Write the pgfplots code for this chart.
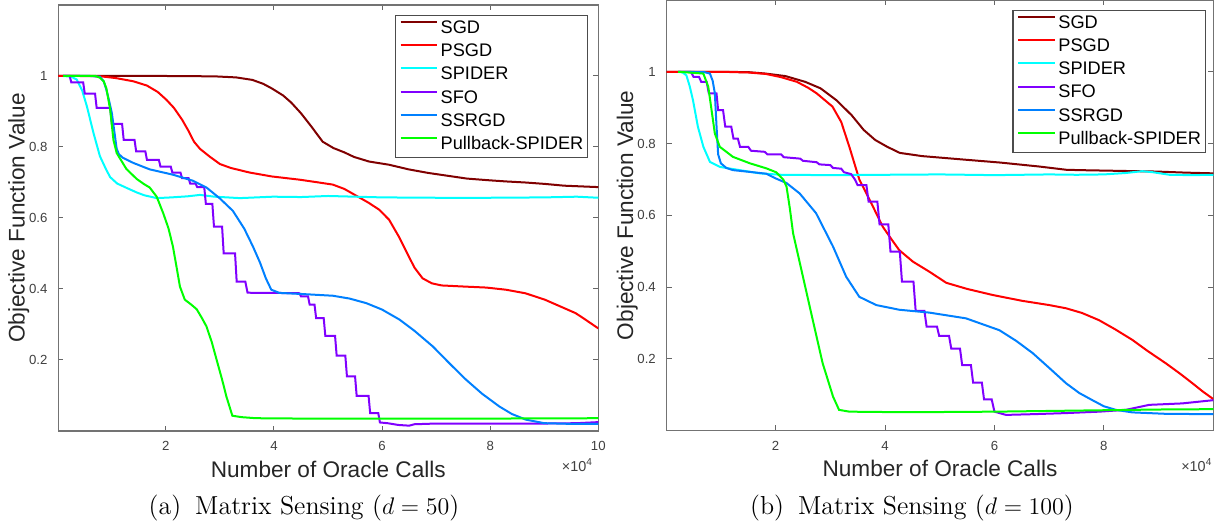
\documentclass[border=0pt]{standalone}
\usepackage{fontspec}
\usepackage{pgfplots}
\pgfplotsset{compat=1.18}
\newfontfamily\arial{Liberation Sans}
\newcommand{\tickfont}{\arial\fontsize{6.6}{7.8}\selectfont}
\newcommand{\sclfont}{\arial\fontsize{7.2}{8.4}\selectfont}
\newcommand{\labfont}{\arial\fontsize{11.3}{13}\selectfont}
\newcommand{\legfont}{\arial\fontsize{9.1}{10.5}\selectfont}
\newcommand{\legent}[1]{\addlegendentry{\legfont #1}}
\definecolor{cSGD}{RGB}{128,0,0}
\definecolor{cPSGD}{RGB}{255,0,0}
\definecolor{cSPIDER}{RGB}{0,255,255}
\definecolor{cSFO}{RGB}{128,0,255}
\definecolor{cSSRGD}{RGB}{0,128,255}
\definecolor{cPB}{RGB}{0,255,0}

\pgfplotsset{
  msense/.style={
    scale only axis,
    xmin=0.01, xmax=10, ymin=0, ymax=1.2,
    ytick={0.2,0.4,0.6,0.8,1},
    tick align=inside, major tick length=2.6pt,
    axis line style={black!55, line width=0.7pt},
    every tick/.style={black!60, line width=0.5pt},
    ticklabel style={font=\tickfont, text=black!75},
    yticklabel style={xshift=-1.9pt},
    xticklabel style={yshift=-1.65pt},
    /pgf/number format/assume math mode=true,
    xlabel={Number of Oracle Calls},
    ylabel={Objective Function Value},
    every axis x label/.style={at={(axis description cs:0.5,0)}, yshift=-19pt, anchor=center,
      font=\labfont, text=black!85},
    every axis y label/.style={at={(axis description cs:-0.073,0.5)}, rotate=90, anchor=center,
      font=\labfont, text=black!85},
    legend style={anchor=north east, draw=black!70, line width=0.6pt, fill=white,
      text=black, inner xsep=2.2pt, inner ysep=2.2pt, row sep=2.97pt,
      /tikz/every odd column/.style={column sep=1.2pt},
      nodes={inner sep=0pt, text height=6.8pt, text depth=1.8pt}},
    legend cell align=left,
    legend image code/.code={\draw[#1] (0pt,3.2pt) -- (18.3pt,3.2pt);},
    every axis plot/.append style={line width=1pt},
  }
}

\begin{document}
\begin{tikzpicture}
\useasboundingbox (0,0) rectangle (610.5pt,261.5pt);

% (a) d = 50
\begin{axis}[msense,
  at={(29.15pt,46pt)}, anchor=south west, width=270pt, height=213pt,
  xtick={2,4,6,8,10},
  legend style={at={(axis description cs:0.9815,0.9765)}},
  extra description/.code={\node[anchor=base east, font=\sclfont, text=black!75, inner sep=0pt]
    at (axis description cs:0.991,-0.096) {×10\textsuperscript{4}};},
]
\addplot[cSGD] table {
0.01 1
1.0 1
2.0 1
2.9 0.999
3.3 0.996
3.6 0.989
3.8 0.978
3.96 0.965
4.17 0.945
4.32 0.925
4.5 0.895
4.69 0.858
4.9 0.815
5.1 0.797
5.3 0.785
5.48 0.772
5.76 0.759
6.13 0.75
6.49 0.737
6.85 0.727
7.21 0.719
7.57 0.711
8.0 0.706
8.29 0.703
8.65 0.700
9.01 0.696
9.37 0.691
10 0.687
};
\legent{SGD}
\addplot[cPSGD] table {
0.01 1
0.4 1
0.8 0.999
1.08 0.994
1.4 0.985
1.65 0.973
1.85 0.955
2.01 0.933
2.15 0.91
2.3 0.877
2.42 0.845
2.52 0.815
2.63 0.795
2.81 0.773
3.0 0.752
3.2 0.741
3.55 0.728
3.96 0.717
4.47 0.708
4.83 0.700
5.09 0.694
5.3 0.682
5.52 0.663
5.75 0.643
5.95 0.623
6.13 0.595
6.32 0.545
6.45 0.505
6.6 0.46
6.75 0.43
6.92 0.416
7.1 0.410
7.5 0.407
7.93 0.404
8.29 0.398
8.65 0.388
9.01 0.370
9.37 0.346
9.58 0.332
9.73 0.317
10 0.289
};
\legent{PSGD}
\addplot[cSPIDER] table {
0.1 1
0.25 0.998
0.35 0.99
0.45 0.96
0.54 0.914
0.66 0.84
0.78 0.774
0.9 0.735
0.97 0.715
1.1 0.697
1.27 0.685
1.46 0.672
1.6 0.664
1.83 0.656
2.1 0.658
2.4 0.661
2.63 0.665
2.9 0.66
3.37 0.656
3.98 0.660
4.5 0.659
5.0 0.662
5.5 0.660
6.0 0.658
7.0 0.657
8.0 0.657
9.0 0.658
9.6 0.66
10 0.657
};
\legent{SPIDER}
\addplot[cSFO] table {
0.1 1
0.22 1
0.25 0.982
0.47 0.982
0.5 0.95
0.69 0.95
0.72 0.91
0.97 0.91
1.0 0.865
1.19 0.865
1.22 0.82
1.42 0.82
1.45 0.788
1.62 0.788
1.65 0.764
1.87 0.764
1.9 0.745
2.09 0.745
2.12 0.728
2.27 0.728
2.3 0.712
2.42 0.712
2.45 0.697
2.55 0.697
2.58 0.687
2.71 0.687
2.74 0.64
2.86 0.64
2.89 0.576
3.04 0.576
3.07 0.50
3.28 0.50
3.31 0.421
3.47 0.421
3.51 0.39
3.6 0.389
4.0 0.389
4.47 0.388
4.5 0.379
4.63 0.379
4.66 0.356
4.75 0.356
4.78 0.318
4.92 0.318
4.95 0.268
5.13 0.268
5.16 0.212
5.32 0.212
5.35 0.154
5.5 0.154
5.53 0.099
5.75 0.099
5.78 0.05
5.93 0.05
5.96 0.024
6.1 0.022
6.3 0.017
6.5 0.015
6.6 0.019
7.0 0.021
8.0 0.021
9.0 0.021
9.6 0.022
10 0.025
};
\legent{SFO}
\addplot[cSSRGD] table {
0.1 1
0.6 1
0.78 0.998
0.85 0.985
0.9 0.961
0.95 0.93
1.0 0.896
1.05 0.84
1.09 0.795
1.13 0.78
1.2 0.77
1.4 0.755
1.7 0.737
2.13 0.722
2.5 0.705
2.75 0.686
3.0 0.655
3.24 0.62
3.45 0.57
3.61 0.52
3.74 0.475
3.85 0.43
3.95 0.398
4.1 0.389
4.5 0.386
5.09 0.381
5.4 0.373
5.71 0.36
6.0 0.342
6.32 0.314
6.6 0.282
6.94 0.238
7.25 0.19
7.55 0.145
7.85 0.105
8.17 0.069
8.4 0.048
8.66 0.032
9.0 0.022
9.5 0.02
10 0.02
};
\legent{SSRGD}
\addplot[cPB] table {
0.1 1
0.7 1
0.78 0.995
0.85 0.985
0.9 0.965
0.97 0.905
1.03 0.82
1.09 0.783
1.27 0.738
1.46 0.71
1.6 0.695
1.7 0.686
1.77 0.672
1.83 0.66
1.95 0.614
2.05 0.57
2.13 0.52
2.2 0.46
2.26 0.407
2.35 0.37
2.47 0.356
2.57 0.343
2.66 0.32
2.75 0.295
2.85 0.25
2.94 0.2
3.04 0.145
3.12 0.097
3.23 0.043
3.4 0.039
3.67 0.036
4.5 0.035
6 0.035
8 0.035
10 0.036
};
\legent{Pullback-SPIDER}
\end{axis}

% (b) d = 100
\begin{axis}[msense,
  at={(333.35pt,46.15pt)}, anchor=south west, width=273.3pt, height=215.35pt,
  xtick={2,4,6,8},
  legend style={at={(axis description cs:0.9866,0.977)}},
  every axis y label/.style={at={(axis description cs:-0.072,0.5)}, rotate=90, anchor=center,
    font=\labfont, text=black!85},
  extra description/.code={\node[anchor=base east, font=\sclfont, text=black!75, inner sep=0pt]
    at (axis description cs:0.999,-0.095) {×10\textsuperscript{4}};},
]
\addplot[cSGD] table {
0.01 1
1.0 1
1.5 0.999
1.82 0.995
2.18 0.988
2.54 0.972
2.82 0.954
3.11 0.921
3.39 0.879
3.61 0.838
3.82 0.81
4.04 0.791
4.27 0.774
4.68 0.765
5.39 0.756
6.11 0.747
6.82 0.736
7.31 0.727
7.54 0.726
8.25 0.724
8.96 0.722
9.5 0.719
10 0.717
};
\legent{SGD}
\addplot[cPSGD] table {
0.01 1
1.0 1
1.5 0.998
1.82 0.994
2.1 0.985
2.39 0.972
2.6 0.955
2.75 0.94
3.04 0.903
3.2 0.86
3.35 0.79
3.45 0.74
3.53 0.70
3.72 0.643
3.96 0.568
4.11 0.535
4.26 0.503
4.51 0.471
4.81 0.443
5.12 0.412
5.5 0.395
5.97 0.378
6.5 0.362
7.0 0.35
7.31 0.341
7.6 0.328
7.91 0.308
8.2 0.283
8.52 0.253
8.8 0.222
9.13 0.188
9.4 0.158
9.62 0.132
9.8 0.11
10 0.088
};
\legent{PSGD}
\addplot[cSPIDER] table {
0.22 1
0.3 0.998
0.37 0.99
0.43 0.96
0.49 0.921
0.58 0.847
0.68 0.791
0.8 0.749
0.98 0.735
1.34 0.726
1.71 0.717
2.1 0.713
3 0.712
4 0.713
5 0.714
6 0.712
7 0.714
7.5 0.713
8.0 0.714
8.4 0.718
8.7 0.723
8.9 0.72
9.2 0.713
9.6 0.712
10 0.713
};
\legent{SPIDER}
\addplot[cSFO] table {
0.22 1
0.45 1
0.5 0.986
0.6 0.986
0.64 0.972
0.74 0.972
0.78 0.94
0.92 0.94
0.95 0.893
1.04 0.893
1.08 0.847
1.19 0.847
1.23 0.814
1.31 0.814
1.35 0.791
1.5 0.791
1.55 0.78
1.8 0.777
1.85 0.77
2.1 0.77
2.15 0.762
2.45 0.758
2.5 0.752
2.75 0.748
2.8 0.742
3.0 0.740
3.05 0.732
3.2 0.73
3.25 0.72
3.38 0.715
3.45 0.70
3.5 0.684
3.66 0.684
3.7 0.638
3.86 0.638
3.9 0.575
4.06 0.575
4.1 0.499
4.27 0.499
4.31 0.415
4.52 0.415
4.56 0.334
4.72 0.334
4.76 0.29
4.95 0.29
4.99 0.264
5.17 0.264
5.21 0.229
5.37 0.229
5.41 0.183
5.57 0.183
5.61 0.134
5.77 0.134
5.81 0.087
5.95 0.087
6.0 0.053
6.21 0.044
6.7 0.046
7.3 0.049
7.91 0.053
8.4 0.058
8.83 0.072
9.43 0.076
10 0.085
};
\legent{SFO}
\addplot[cSSRGD] table {
0.22 1
0.7 0.999
0.8 0.995
0.85 0.975
0.89 0.94
0.92 0.85
0.95 0.77
1.0 0.745
1.1 0.732
1.22 0.726
1.53 0.721
1.83 0.716
2.0 0.703
2.2 0.69
2.44 0.661
2.74 0.606
3.05 0.513
3.29 0.429
3.53 0.373
3.84 0.35
4.26 0.337
4.81 0.329
5.48 0.313
6.09 0.28
6.4 0.25
6.7 0.216
7.0 0.175
7.31 0.132
7.55 0.105
7.79 0.085
8.0 0.068
8.22 0.058
8.52 0.051
9.13 0.047
10 0.046
};
\legent{SSRGD}
\addplot[cPB] table {
0.22 1
0.68 0.995
0.77 0.958
0.83 0.893
0.89 0.828
0.98 0.791
1.22 0.763
1.53 0.745
1.83 0.731
2.01 0.72
2.14 0.70
2.2 0.68
2.26 0.62
2.32 0.55
2.5 0.429
2.68 0.308
2.86 0.188
3.05 0.095
3.16 0.058
3.35 0.053
4.0 0.052
5 0.052
6 0.053
7 0.055
8 0.057
9 0.059
10 0.06
};
\legent{Pullback-SPIDER}
\end{axis}

\node[font=\fontsize{13}{15}\selectfont] at (152pt,7.35pt) {(a)\hspace{7pt}Matrix Sensing ($d=50$)};
\node[font=\fontsize{13}{15}\selectfont] at (456pt,7.35pt) {(b)\hspace{7pt}Matrix Sensing ($d=100$)};
\end{tikzpicture}
\end{document}
